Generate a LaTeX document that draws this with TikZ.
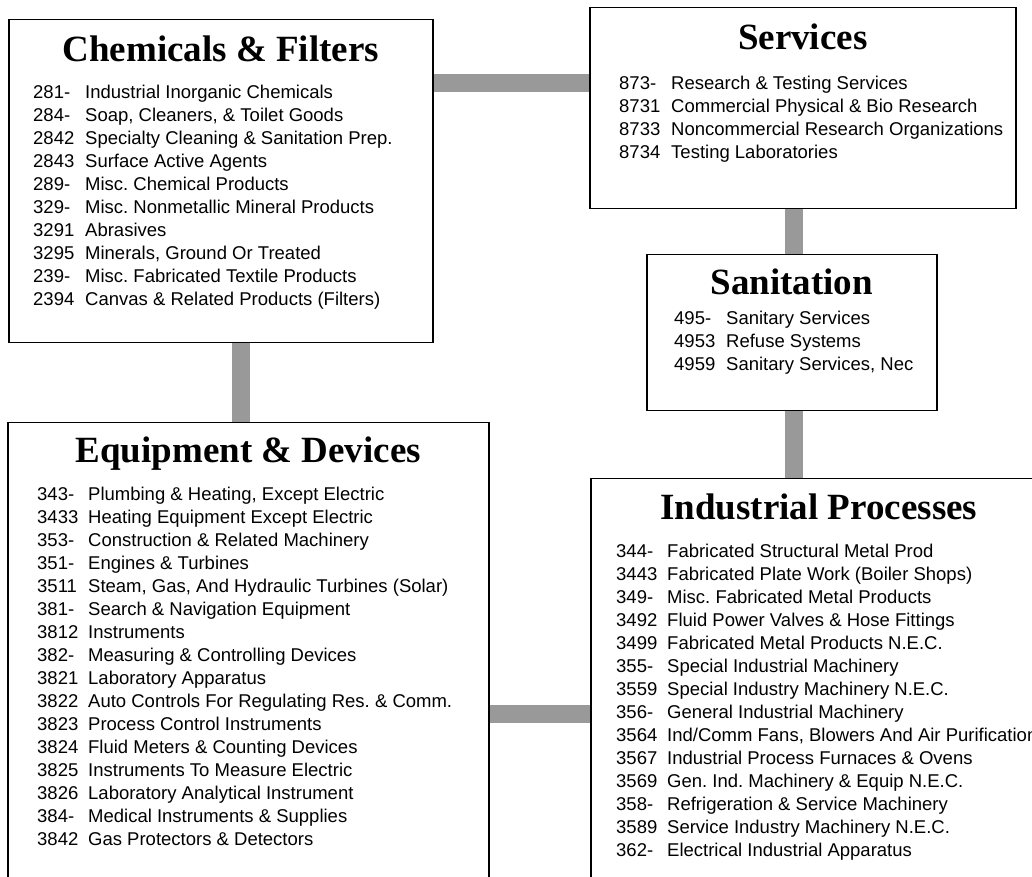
\documentclass[tikz,border=0pt]{standalone}
\usepackage{fontspec}
\setmainfont{Liberation Serif}
\setsansfont{Liberation Sans}
\frenchspacing
\usetikzlibrary{
    backgrounds,
    positioning
}

\begin{document}
\begin{tikzpicture}
        [
            x = 1pt, y = 1pt,
            group/.style = {draw, line width = 1.5pt, fill = white, rectangle, inner sep = 0pt, anchor = north west},
            heading/.style = {font = \fontsize{37}{44}\selectfont\bfseries, inner sep = 0pt, anchor = base},
            codes/.style = {font = \fontsize{18.5}{23}\selectfont\sffamily, inner sep = 0pt, anchor = base west},
            link/.style = {draw = black!40, line width = 18pt}
        ]
        \useasboundingbox (0, 0) rectangle (1032, 876);
        \clip (0, 0) rectangle (1032, 876);

        \node[group, minimum width = 424, minimum height = 323] (chem) at (8, 857) {};
        \node[heading] (chemtitle) at ([yshift = -43]chem.north) {Chemicals \& Filters};
        \node[codes] (chemlist) at ([shift = {(25, -80)}]chem.north west) {%
            \begin{tabular}[t]{@{}p{52pt}@{}l@{}}
                281- & Industrial Inorganic Chemicals\\
                284- & Soap, Cleaners, \& Toilet Goods\\
                2842 & Specialty Cleaning \& Sanitation Prep.\\
                2843 & Surface Active Agents\\
                289- & Misc. Chemical Products\\
                329- & Misc. Nonmetallic Mineral Products\\
                3291 & Abrasives\\
                3295 & Minerals, Ground Or Treated\\
                239- & Misc. Fabricated Textile Products\\
                2394 & Canvas \& Related Products (Filters)
            \end{tabular}};

        \node[group, minimum width = 426, minimum height = 201] (serv) at (589, 869) {};
        \node[heading] (servtitle) at ([yshift = -43]serv.north) {Services};
        \node[codes] (servlist) at ([shift = {(30, -83)}]serv.north west) {%
            \begin{tabular}[t]{@{}p{52pt}@{}l@{}}
                873- & Research \& Testing Services\\
                8731 & Commercial Physical \& Bio Research\\
                8733 & Noncommercial Research Organizations\\
                8734 & Testing Laboratories
            \end{tabular}};

        \node[group, minimum width = 290, minimum height = 156] (sani) at (646, 622) {};
        \node[heading] (sanititle) at ([yshift = -41]sani.north) {Sanitation};
        \node[codes] (sanilist) at ([shift = {(28, -71)}]sani.north west) {%
            \begin{tabular}[t]{@{}p{52pt}@{}l@{}}
                495- & Sanitary Services\\
                4953 & Refuse Systems\\
                4959 & Sanitary Services, Nec
            \end{tabular}};

        \node[group, minimum width = 481, minimum height = 500] (equip) at (7, 454) {};
        \node[heading] (equiptitle) at ([yshift = -41]equip.north) {Equipment \& Devices};
        \node[codes] (equiplist) at ([shift = {(30, -78)}]equip.north west) {%
            \begin{tabular}[t]{@{}p{51pt}@{}l@{}}
                343- & Plumbing \& Heating, Except Electric\\
                3433 & Heating Equipment Except Electric\\
                353- & Construction \& Related Machinery\\
                351- & Engines \& Turbines\\
                3511 & Steam, Gas, And Hydraulic Turbines (Solar)\\
                381- & Search \& Navigation Equipment\\
                3812 & Instruments\\
                382- & Measuring \& Controlling Devices\\
                3821 & Laboratory Apparatus\\
                3822 & Auto Controls For Regulating Res. \& Comm.\\
                3823 & Process Control Instruments\\
                3824 & Fluid Meters \& Counting Devices\\
                3825 & Instruments To Measure Electric\\
                3826 & Laboratory Analytical Instrument\\
                384- & Medical Instruments \& Supplies\\
                3842 & Gas Protectors \& Detectors
            \end{tabular}};

        \node[group, minimum width = 456, minimum height = 500] (indus) at (590, 398) {};
        \node[heading] (industitle) at ([yshift = -42]indus.north) {Industrial Processes};
        \node[codes] (induslist) at ([shift = {(26, -79)}]indus.north west) {%
            \begin{tabular}[t]{@{}p{51pt}@{}l@{}}
                344- & Fabricated Structural Metal Prod\\
                3443 & Fabricated Plate Work (Boiler Shops)\\
                349- & Misc. Fabricated Metal Products\\
                3492 & Fluid Power Valves \& Hose Fittings\\
                3499 & Fabricated Metal Products N.E.C.\\
                355- & Special Industrial Machinery\\
                3559 & Special Industry Machinery N.E.C.\\
                356- & General Industrial Machinery\\
                3564 & Ind/Comm Fans, Blowers And Air Purification\\
                3567 & Industrial Process Furnaces \& Ovens\\
                3569 & Gen. Ind. Machinery \& Equip N.E.C.\\
                358- & Refrigeration \& Service Machinery\\
                3589 & Service Industry Machinery N.E.C.\\
                362- & Electrical Industrial Apparatus
            \end{tabular}};

        \begin{scope}[on background layer]
            \draw[link] ([yshift = -64.5]chem.north east) -- ([yshift = -64.5]chem.north east -| serv.west);
            \draw[link] ([xshift = 20]chem.south) -- ([xshift = 20]chem.south |- equip.north);
            \draw[link] ([xshift = -9]serv.south) -- ([xshift = -9]serv.south |- sani.north);
            \draw[link] ([xshift = 2]sani.south) -- ([xshift = 2]sani.south |- indus.north);
            \draw[link] ([yshift = -292]equip.north east) -- ([yshift = -292]equip.north east -| indus.west);
        \end{scope}
    \end{tikzpicture}
\end{document}
